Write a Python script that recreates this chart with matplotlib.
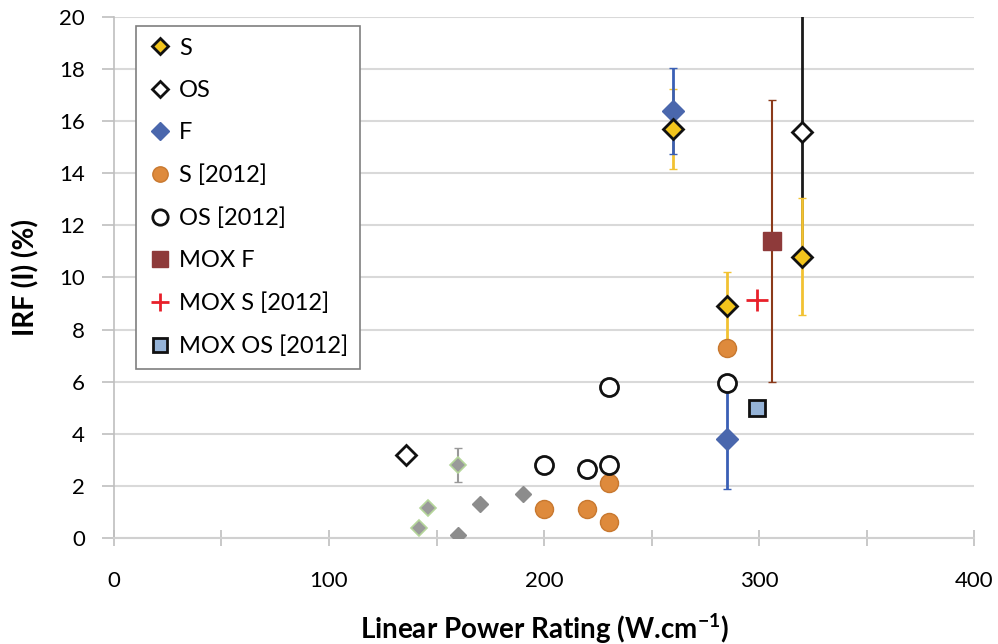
import numpy as np
import matplotlib
matplotlib.use("Agg")
import matplotlib.pyplot as plt

plt.rcParams["font.family"] = ["Lato", "DejaVu Sans"]

# S
s_x = [260, 285, 320]
s_y = [15.7, 8.9, 10.8]
s_err = [1.55, 1.3, 2.25]
# OS
os_x = [136, 320]
os_y = [3.2, 15.6]
os_err = [0, 5.0]
# F
f_x = [260, 285]
f_y = [16.4, 3.8]
f_err = [1.65, 1.9]
# S [2012]
s12_x = [200, 220, 230, 230, 285]
s12_y = [1.1, 1.1, 2.1, 0.6, 7.3]
# OS [2012]
os12_x = [200, 220, 230, 230, 285]
os12_y = [2.8, 2.65, 2.8, 5.8, 5.95]
# MOX F
moxf_x = [306]
moxf_y = [11.4]
moxf_err = [5.4]
# MOX S [2012]
moxs_x = [299]
moxs_y = [9.15]
# MOX OS [2012]
moxos_x = [299]
moxos_y = [5.0]
# unlabelled grey diamonds (green edged / plain)
gg_x = [142, 146, 160]
gg_y = [0.4, 1.15, 2.8]
gg_err = [0, 0, 0.65]
g_x = [160, 170, 190]
g_y = [0.1, 1.3, 1.7]

fig = plt.figure(figsize=(9.98, 6.44), dpi=100)
ax = fig.add_axes([0.1142, 0.1646, 0.8618, 0.8090])

# error bars first
ax.errorbar(gg_x, gg_y, yerr=gg_err, fmt="none", ecolor="#999999", elinewidth=1.5, capsize=3, zorder=2)
ax.errorbar(os_x, os_y, yerr=os_err, fmt="none", ecolor="#1a1a1a", elinewidth=2, capsize=3, zorder=2)
ax.errorbar(moxf_x, moxf_y, yerr=moxf_err, fmt="none", ecolor="#8b3a1a", elinewidth=1.5, capsize=3, zorder=2)
ax.errorbar(s_x, s_y, yerr=s_err, fmt="none", ecolor="#f2c232", elinewidth=2, capsize=3, zorder=2.1)
ax.errorbar(f_x, f_y, yerr=f_err, fmt="none", ecolor="#3a5fb5", elinewidth=2, capsize=3, zorder=2.2)

ax.plot(gg_x, gg_y, "D", ms=8, color="#9a9a9a", mec="#b5d69a", mew=1.2, ls="none", zorder=3)
ax.plot(g_x, g_y, "D", ms=8, color="#8c8c8c", mec="#8c8c8c", ls="none", zorder=3)

ax.plot(s12_x, s12_y, "o", ms=13, color="#de8a3c", mec="#c8782f", mew=1, ls="none", label="S [2012]", zorder=3)
ax.plot(os12_x, os12_y, "o", ms=13, color="white", mec="#111111", mew=2, ls="none", label="OS [2012]", zorder=3)
ax.plot(moxf_x, moxf_y, "s", ms=13, color="#8e3a3a", mec="#8e3a3a", ls="none", label="MOX F", zorder=3)
ax.plot(moxs_x, moxs_y, "+", ms=16, color="#e8202a", mew=2, ls="none", label="MOX S [2012]", zorder=3)
ax.plot(moxos_x, moxos_y, "s", ms=12, color="#95b3d7", mec="#111111", mew=2, ls="none", label="MOX OS [2012]", zorder=3)
ax.plot(f_x, f_y, "D", ms=11, color="#4a67ad", mec="#4a67ad", ls="none", label="F", zorder=3.1)
ax.plot(os_x, os_y, "D", ms=10, color="white", mec="#111111", mew=2, ls="none", label="OS", zorder=3.2)
ax.plot(s_x, s_y, "D", ms=10, color="#f3c51c", mec="#111111", mew=2, ls="none", label="S", zorder=3.3)

ax.set_xlim(0, 400)
ax.set_ylim(0, 20)
ax.set_xticks(np.arange(0, 401, 50))
ax.set_xticklabels(["0", "", "100", "", "200", "", "300", "", "400"])
ax.set_yticks(np.arange(0, 21, 2))
ax.yaxis.grid(True, color="#d9d9d9", lw=1.5)
ax.set_axisbelow(True)
for side in ["top", "right"]:
    ax.spines[side].set_visible(False)
ax.spines["left"].set_color("#bfbfbf")
ax.spines["bottom"].set_color("#d0d0d0")
ax.spines["left"].set_linewidth(1.2)
ax.spines["bottom"].set_linewidth(1.5)
ax.tick_params(axis="x", direction="inout", length=12, color="#bfbfbf", width=1.2, labelsize=16, pad=18)
ax.tick_params(axis="y", direction="out", length=9, color="#bfbfbf", width=1.2, labelsize=16, pad=12)

ax.set_xlabel("Linear Power Rating (W.cm$^{\\mathregular{-1}}$)", fontsize=20, fontweight="bold", labelpad=14)
ax.set_ylabel("IRF (I) (%)", fontsize=20, fontweight="bold", labelpad=14)

handles, labels = ax.get_legend_handles_labels()
order = ["S", "OS", "F", "S [2012]", "OS [2012]", "MOX F", "MOX S [2012]", "MOX OS [2012]"]
hs = [handles[labels.index(o)] for o in order]
leg = ax.legend(hs, order, loc="upper left", bbox_to_anchor=(0.026, 0.983), fontsize=17,
                frameon=True, fancybox=False, edgecolor="#7f7f7f", framealpha=1,
                handletextpad=0.3, handlelength=1.0, labelspacing=0.9, borderpad=0.5,
                borderaxespad=0, markerscale=0.85)
leg.get_frame().set_linewidth(1.2)

fig.savefig("out.png", dpi=100)
